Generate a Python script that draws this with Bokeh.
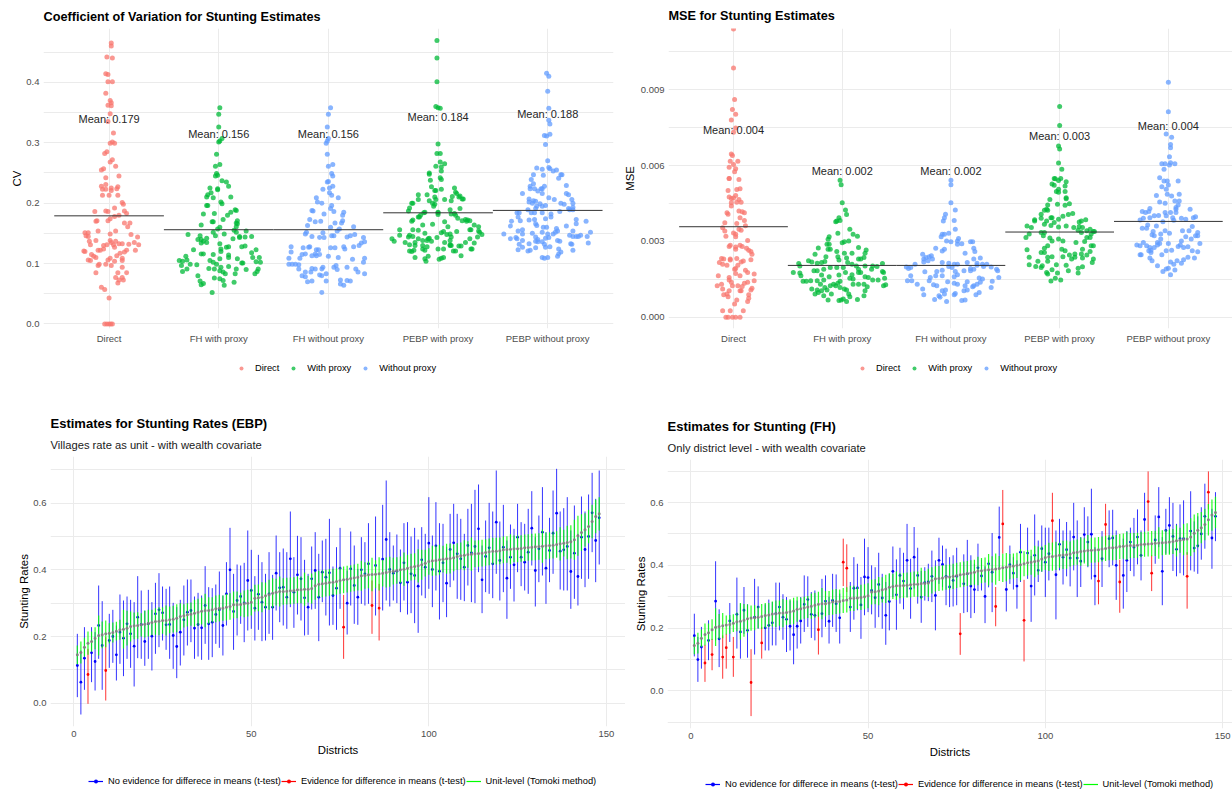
from bokeh.plotting import figure
from bokeh.layouts import column, row
from bokeh.models import FixedTicker, Legend, LegendItem, Title, NumeralTickFormatter
from bokeh.core.properties import value
from bokeh.embed import file_html
from bokeh.resources import INLINE

categories = ["Direct", "FH with proxy", "FH without proxy", "PEBP with proxy", "PEBP without proxy"]
group_of = ["Direct", "With proxy", "Without proxy", "With proxy", "Without proxy"]
legend_names = ["Direct", "With proxy", "Without proxy"]
cv_means = [.179, .156, .156, .184, .188]
cv_label_y = [.339, .3146, .3146, .342, .347]
mse_means = [.00358, .00205, .00205, .00337, .00379]
mse_label_y = [.0074, .0058, .0058, .00716, .00757]

# (value, horizontal jitter)
cv_direct = [(.465,.02),(.46,.02),(.442,-.02),(.44,.03),(.414,-.03),(.413,-.01),(.401,-.01),(.401,.03),(.382,-.03),(.37,.01),(.366,.02),(.362,-.01),(.361,.02),(.348,.01),(.335,-.01),(.316,.04),(.299,.01),(.301,.03),(.299,.05),(.285,-.02),(.282,-.04),(.272,.03),(.268,.01),(.261,.06),(.257,-.05),(.255,-.07),(.242,-.03),(.245,.09),(.228,-.07),(.231,-.03),(.223,-.06),(.223,-.03),(.225,.02),(.221,.02),(.227,.08),(.224,.07),(.213,-.06),(.213,0),(.213,.08),(.201,.12),(.198,.13),(.192,.05),(.186,-.13),(.187,-.03),(.186,-.01),(.187,.14),(.183,.16),(.178,.05),(.18,.09),(.171,-.11),(.17,-.12),(.174,.01),(.171,-.01),(.167,.14),(.167,.19),(.161,.17),(.154,.06),(.154,-.1),(.149,.01),(.151,-.22),(.151,-.19),(.146,-.21),(.145,-.19),(.148,.2),(.144,.26),(.137,-.18),(.138,-.12),(.138,.01),(.135,.02),(.137,.06),(.133,.09),(.133,.12),(.135,.23),(.131,-.17),(.13,-.05),(.131,-.02),(.131,.04),(.132,.18),(.131,.27),(.127,.05),(.124,-.05),(.122,-.08),(.122,-.1),(.121,-.23),(.12,-.22),(.122,.16),(.122,.24),(.119,.14),(.117,.1),(.113,.07),(.115,-.16),(.112,-.14),(.11,-.12),(.106,-.19),(.105,-.17),(.109,.01),(.106,-.01),(.104,.05),(.109,.12),(.105,.12),(.099,-.09),(.097,-.1),(.099,-.03),(.097,.02),(.094,.12),(.085,-.12),(.085,.08),(.085,.16),(.077,.06),(.077,.12),(.073,.09),(.073,.13),(.068,.08),(.061,-.07),(.057,-.04),(.043,0),(0,-.04),(0,-.02),(0,0),(0,.015),(0,.03)]
cv_fh_with = [(.358,.01),(.347,0),(.326,0),(.307,.03),(.303,.01),(.301,0),(.281,-.02),(.264,.01),(.261,-.03),(.249,-.02),(.246,-.01),(.245,-.03),(.237,.03),(.235,.07),(.228,.09),(.225,-.08),(.224,-.01),(.222,-.01),(.217,-.07),(.21,.11),(.214,-.1),(.21,-.11),(.209,-.05),(.202,.02),(.199,.03),(.196,-.11),(.196,-.1),(.189,.15),(.188,.16),(.182,-.14),(.183,-.04),(.185,.11),(.18,.08),(.171,.17),(.173,.04),(.167,.16),(.164,-.16),(.169,-.05),(.169,-.06),(.166,.17),(.161,.16),(.16,.01),(.157,-.01),(.155,.14),(.154,.25),(.152,.16),(.146,-.17),(.148,-.28),(.146,-.03),(.152,-.05),(.14,-.16),(.14,-.19),(.149,.05),(.145,.19),(.145,.3),(.137,-.14),(.142,-.11),(.135,-.11),(.133,.01),(.141,.13),(.143,.19),(.144,.24),(.134,-.16),(.124,.02),(.127,.07),(.128,.09),(.128,.21),(.129,.24),(.123,-.23),(.123,.34),(.115,-.05),(.116,-.16),(.116,-.14),(.12,.02),(.118,.3),(.114,.09),(.11,.09),(.112,-.3),(.105,-.36),(.104,-.33),(.106,-.29),(.105,-.08),(.108,.01),(.108,.17),(.11,.31),(.11,.37),(.097,-.34),(.099,-.26),(.098,-.2),(.102,-.05),(.099,-.02),(.101,.21),(.101,.22),(.103,.34),(.102,.38),(.091,-.29),(.087,-.33),(.092,-.09),(.091,-.04),(.094,.02),(.095,.09),(.091,.16),(.09,.25),(.091,.36),(.08,-.19),(.086,.04),(.088,.01),(.083,.06),(.083,.15),(.083,.33),(.087,.35),(.071,-.17),(.067,-.14),(.076,-.04),(.075,.01),(.072,.04),(.069,.14),(.065,-.16),(.064,.05),(.052,-.06)]
cv_fh_without = [(.358,.02),(.347,0),(.326,-.01),(.307,0),(.303,-.01),(.299,-.02),(.281,-.01),(.261,0),(.264,.04),(.249,.03),(.245,.04),(.236,0),(.235,-.01),(.228,.04),(.225,.01),(.223,-.05),(.217,.01),(.213,.03),(.209,-.11),(.209,.09),(.202,-.1),(.2,-.06),(.196,.03),(.188,-.15),(.187,-.14),(.191,.02),(.186,.05),(.185,.14),(.18,.13),(.182,-.04),(.173,-.17),(.169,-.12),(.17,-.07),(.167,.06),(.171,.13),(.167,.12),(.163,-.19),(.16,.02),(.161,.23),(.157,.1),(.154,.08),(.152,-.2),(.149,-.21),(.151,-.05),(.146,.05),(.146,.03),(.143,-.08),(.143,-.04),(.145,-.15),(.148,.24),(.146,.2),(.144,.17),(.143,.32),(.134,.3),(.136,.33),(.128,.14),(.126,.06),(.13,.28),(.128,.23),(.128,-.34),(.128,-.17),(.127,-.18),(.126,-.23),(.123,-.11),(.123,-.09),(.126,.02),(.119,-.34),(.116,-.21),(.115,-.24),(.116,-.12),(.113,-.15),(.115,-.08),(.113,-.11),(.112,0),(.124,.15),(.109,-.36),(.109,-.26),(.11,.09),(.107,.22),(.109,.33),(.102,.32),(.099,-.36),(.099,-.3),(.099,-.33),(.098,-.27),(.097,.07),(.094,.17),(.094,.05),(.094,-.05),(.091,-.06),(.091,-.12),(.092,-.15),(.091,-.27),(.09,.08),(.091,.25),(.086,-.21),(.086,-.16),(.086,.27),(.083,.33),(.08,-.24),(.078,-.21),(.081,-.08),(.083,-.02),(.08,-.06),(.073,.11),(.071,.2),(.066,.11),(.064,.14),(.072,.17),(.071,-.02),(.071,-.15),(.07,-.19),(.052,-.06)]
cv_pebp_with = [(.469,-.01),(.44,-.01),(.401,-.01),(.36,-.02),(.358,0),(.357,.02),(.298,0),(.282,-.01),(.282,.02),(.268,.02),(.265,.06),(.261,-.02),(.26,.03),(.253,.03),(.25,-.08),(.248,-.08),(.242,.02),(.239,.03),(.238,-.07),(.227,-.06),(.223,.03),(.221,-.03),(.221,-.02),(.225,.15),(.218,.16),(.214,-.18),(.214,-.1),(.216,.17),(.212,.2),(.21,-.03),(.211,.13),(.21,.19),(.207,.22),(.206,-.18),(.206,-.02),(.204,-.08),(.206,.06),(.204,.12),(.207,.23),(.2,-.24),(.2,-.23),(.2,-.05),(.198,-.03),(.195,-.04),(.192,-.26),(.191,.2),(.189,.11),(.187,-.27),(.185,-.12),(.185,0),(.184,.0),(.182,.12),(.183,.15),(.184,-.13),(.181,.0),(.18,.16),(.18,-.16),(.177,-.17),(.177,-.18),(.175,.18),(.173,.25),(.172,.27),(.171,.29),(.171,.22),(.17,.26),(.172,-.23),(.17,-.24),(.169,.06),(.165,-.05),(.161,.09),(.164,-.14),(.164,.33),(.161,.37),(.156,-.35),(.156,-.23),(.155,-.18),(.15,-.12),(.153,.05),(.151,.03),(.153,.17),(.156,.29),(.156,.3),(.154,.37),(.152,.38),(.148,.4),(.144,.36),(.141,.29),(.134,.33),(.135,.25),(.129,.19),(.129,.21),(.124,.3),(.124,.31),(.113,.21),(.121,.14),(.121,.16),(.124,.05),(.124,0),(.13,.11),(.13,.12),(.144,.12),(.148,.08),(.149,.11),(.143,-.01),(.142,-.08),(.141,-.09),(.138,-.1),(.141,-.18),(.145,-.23),(.147,-.26),(.144,-.27),(.147,-.35),(.141,-.42),(.137,-.4),(.135,-.3),(.131,-.26),(.135,-.21),(.13,-.21),(.138,-.14),(.13,-.14),(.124,-.14),(.128,-.1),(.137,-.06),(.135,.06),(.138,.11),(.131,.11),(.121,-.26),(.12,-.24),(.122,-.22),(.122,-.12),(.11,-.21),(.112,-.09),(.108,-.12),(.104,-.11),(.107,.01),(.109,.03),(.11,.05)]
cv_pebp_without = [(.415,-.01),(.41,.01),(.385,0),(.357,.01),(.337,.01),(.331,.02),(.312,-.03),(.311,-.01),(.314,.02),(.297,-.02),(.27,0),(.258,-.1),(.256,-.05),(.259,.01),(.257,.02),(.253,.05),(.255,.08),(.247,-.13),(.246,-.04),(.247,.12),(.247,.13),(.239,-.15),(.232,-.13),(.241,.1),(.228,-.16),(.224,-.16),(.224,-.12),(.224,-.05),(.228,-.03),(.224,-.06),(.229,.17),(.216,-.23),(.22,-.09),(.216,-.05),(.216,.17),(.214,.19),(.209,.01),(.206,.06),(.207,-.17),(.202,-.17),(.204,-.13),(.203,-.11),(.206,.22),(.2,.23),(.2,.12),(.198,.15),(.2,-.14),(.199,-.07),(.195,-.05),(.196,-.02),(.195,-.1),(.191,-.11),(.193,.23),(.191,.19),(.189,.2),(.189,.23),(.189,-.18),(.184,-.28),(.184,-.26),(.184,-.15),(.184,-.12),(.184,-.05),(.182,.03),(.186,.11),(.177,-.27),(.171,-.25),(.17,-.33),(.172,-.17),(.173,-.12),(.174,-.02),(.177,.03),(.162,-.34),(.166,-.11),(.163,-.1),(.16,-.04),(.16,-.01),(.158,.08),(.162,.17),(.173,.26),(.166,.26),(.17,.35),(.154,.23),(.152,.39),(.149,-.4),(.154,-.27),(.156,-.23),(.149,-.23),(.15,-.14),(.152,-.05),(.149,0),(.149,.05),(.154,.09),(.152,.07),(.147,.2),(.145,.23),(.145,.26),(.145,.28),(.147,.3),(.145,.36),(.141,-.34),(.143,-.29),(.141,-.28),(.144,-.11),(.14,-.09),(.143,.01),(.142,-.02),(.138,.09),(.137,.11),(.134,.37),(.133,.21),(.132,.22),(.138,-.23),(.132,-.26),(.127,-.23),(.133,-.17),(.137,-.11),(.136,-.09),(.136,-.05),(.132,-.03),(.128,.02),(.123,-.27),(.121,-.18),(.122,-.16),(.126,-.11),(.127,-.02),(.124,.1),(.122,.23),(.119,.12),(.116,.1),(.112,.09),(.11,-.05),(.109,-.03),(.11,0)]
mse_direct = [(.0114,0),(.00986,0),(.00861,.01),(.00822,-.01),(.00803,.02),(.0078,-.02),(.00748,.02),(.00732,0),(.00646,-.02),(.0064,-.01),(.00617,.04),(.00617,-.03),(.00604,0),(.00593,-.04),(.00587,.02),(.00575,.01),(.00549,-.04),(.00549,-.04),(.00545,.05),(.00501,-.05),(.00505,.03),(.00508,.06),(.00476,-.04),(.00482,.02),(.00472,0),(.0047,-.02),(.00466,.05),(.00455,.07),(.00453,-.02),(.00455,.03),(.0044,-.02),(.0042,.05),(.00417,.08),(.00413,.1),(.00413,-.06),(.00407,-.05),(.00394,.06),(.00383,.1),(.00374,-.08),(.00371,.03),(.00362,.11),(.00354,-.1),(.00341,-.08),(.00348,.05),(.00344,.07),(.00333,0),(.00328,.02),(.0032,-.07),(.00318,.02),(.00304,.13),(.00285,-.03),(.0028,-.04),(.00278,.02),(.00285,.06),(.0028,.08),(.00273,.12),(.00265,.14),(.0026,.16),(.00249,.17),(.00269,.02),(.00227,.16),(.00232,-.11),(.0023,-.09),(.0023,-.03),(.00232,.03),(.00222,.09),(.00219,.07),(.00217,-.13),(.0021,-.1),(.00206,-.06),(.00226,-.03),(.00206,.04),(.0019,.01),(.00193,.02),(.00186,.11),(.00177,.13),(.00164,-.14),(.00171,.19),(.00157,-.04),(.00164,.06),(.00173,.02),(.00147,-.04),(.00138,-.02),(.00138,.13),(.00144,.19),(.00134,.1),(.00125,-.15),(.00131,-.11),(.00125,-.01),(.00125,.04),(.00122,.08),(.00115,.17),(.00112,-.1),(.00105,-.04),(.00105,.07),(.00108,.16),(.00089,-.09),(.00092,-.06),(.00105,.06),(.00089,.14),(.00075,.14),(.00081,-.05),(.00068,.03),(.00052,.01),(.00062,.13),(.00026,-.1),(.00026,-.03),(.00026,.09),(0,-.07),(0,-.05),(0,-.01),(0,.02),(0,.06)]
mse_fh_with = [(.00542,-.02),(.00524,-.01),(.00453,0),(.00424,.03),(.00406,.04),(.00394,-.03),(.00383,-.02),(.00381,-.05),(.00378,-.06),(.00348,.07),(.00332,-.04),(.00328,.1),(.0032,.14),(.00318,-.12),(.00308,-.13),(.00302,.06),(.00299,.02),(.00295,0),(.00289,-.12),(.00289,-.14),(.00269,-.13),(.00269,-.11),(.00274,-.22),(.00276,.15),(.00266,.22),(.0026,-.05),(.00253,.02),(.00253,.09),(.00249,-.25),(.00253,.21),(.00236,.2),(.00239,-.15),(.00239,-.04),(.00226,-.03),(.00234,.04),(.0023,.15),(.0023,.17),(.00223,-.31),(.00219,-.28),(.00214,-.23),(.00217,-.19),(.0022,-.16),(.00217,.05),(.0021,.09),(.00213,-.4),(.00203,-.39),(.00203,.28),(.00213,.37),(.00201,.32),(.00203,.13),(.00203,.21),(.00197,-.11),(.00197,-.05),(.00197,.01),(.0019,.15),(.0019,.27),(.0019,-.17),(.00184,-.23),(.00184,-.26),(.00177,-.45),(.00175,-.39),(.00164,-.38),(.00177,.15),(.00177,.17),(.00177,.03),(.00168,.09),(.00181,.37),(.00177,.38),(.00167,-.19),(.0016,-.12),(.00167,-.03),(.0016,.21),(.00157,.24),(.00154,.39),(.00142,-.36),(.00142,-.33),(.00144,-.29),(.00144,-.23),(.00147,-.17),(.00142,-.02),(.00154,.07),(.00151,.1),(.00147,.28),(.00147,.33),(.00131,-.2),(.00131,-.08),(.00134,-.04),(.00125,-.06),(.00118,-.16),(.00131,.1),(.00131,.15),(.00131,.2),(.00121,.23),(.00125,.38),(.00129,.4),(.00112,-.28),(.00108,-.23),(.00105,-.19),(.00108,-.14),(.00125,-.11),(.00118,-.02),(.00112,.02),(.00108,.04),(.00105,.21),(.00092,-.25),(.00098,-.22),(.00085,-.17),(.00092,-.1),(.00092,.06),(.00085,.2),(.00081,.07),(.00066,-.03),(.00068,-.13),(.00068,-.01),(.00072,.01),(.00062,.04),(.0007,.14)]
mse_fh_without = [(.00542,0),(.00524,0),(.00453,0),(.00424,.04),(.00407,-.05),(.00394,-.06),(.00381,-.07),(.00383,.03),(.00348,.04),(.00332,-.02),(.00328,-.08),(.00328,-.06),(.00318,-.09),(.00311,.07),(.00302,.06),(.00299,0),(.00302,-.04),(.00299,.18),(.00299,.2),(.00289,.06),(.00291,.1),(.00273,-.14),(.00269,-.06),(.00262,-.08),(.00253,.13),(.00273,.21),(.0026,.22),(.00249,-.26),(.00239,-.2),(.00243,-.18),(.0023,-.25),(.00223,-.21),(.00236,-.23),(.0023,.21),(.00234,.27),(.0021,-.33),(.00219,-.25),(.0023,-.17),(.00217,-.08),(.00214,-.02),(.0021,.03),(.0021,.06),(.00217,.15),(.00214,.24),(.0021,.29),(.0021,.33),(.00199,-.41),(.00193,-.39),(.00197,-.37),(.00201,-.02),(.00197,.01),(.00193,.18),(.00206,.24),(.00201,.3),(.00199,.37),(.0018,-.24),(.00181,-.13),(.00186,-.08),(.00181,.04),(.00184,.12),(.0019,.42),(.00184,.43),(.00164,-.37),(.00157,-.19),(.00164,-.14),(.00164,-.08),(.0016,.03),(.00168,.06),(.00184,.18),(.0019,.21),(.00155,.26),(.00151,.29),(.00157,.44),(.00144,-.4),(.00144,-.36),(.00144,-.2),(.0014,-.03),(.00134,.03),(.0014,.15),(.00125,.21),(.00138,.27),(.00142,.38),(.00131,-.31),(.00129,-.16),(.00125,-.13),(.00131,.06),(.00125,.13),(.00131,.24),(.00118,.37),(.00112,-.26),(.00105,-.08),(.00108,-.05),(.00094,.04),(.00108,.15),(.00121,.2),(.00098,.26),(.00089,-.25),(.00085,-.11),(.00092,-.06),(.00089,.03),(.00105,.12),(.00089,.23),(.00079,-.1),(.0007,-.15),(.00062,-.04),(.00066,.1),(.00068,.13)]
mse_pebp_with = [(.00834,0),(.00758,0),(.00677,-.01),(.00665,0),(.0061,-.01),(.00585,.02),(.00549,-.05),(.00548,-.04),(.00549,.01),(.00541,-.01),(.00536,.06),(.00527,-.07),(.00522,-.05),(.00519,.05),(.00506,-.01),(.00497,-.03),(.00494,-.01),(.00497,.05),(.00473,.06),(.00469,.06),(.00466,-.09),(.00444,-.11),(.00447,-.02),(.00443,.05),(.00449,.09),(.00427,-.12),(.00423,-.11),(.00423,-.14),(.00407,-.17),(.00399,.03),(.00406,.08),(.0041,.12),(.00394,-.08),(.00394,-.07),(.00388,-.01),(.00386,-.23),(.00392,-.17),(.00381,-.23),(.00381,-.12),(.00375,-.05),(.00381,.2),(.00386,.24),(.00377,.18),(.00361,-.3),(.00355,-.26),(.00368,-.14),(.00363,-.08),(.00357,-.01),(.00361,.06),(.00355,.21),(.00355,.13),(.00359,.18),(.00348,.28),(.00342,.25),(.00315,-.31),(.00329,-.28),(.00335,-.17),(.00335,-.14),(.00322,-.15),(.00344,.17),(.00335,.2),(.00339,.31),(.00339,.32),(.00329,.29),(.00313,-.09),(.00309,-.01),(.00302,-.07),(.00302,.03),(.00315,.28),(.00315,.25),(.003,.23),(.00296,.15),(.00283,-.11),(.00273,-.14),(.00267,-.3),(.00256,-.17),(.00256,-.14),(.00269,.02),(.00263,.05),(.00283,.29),(.00283,.31),(.0026,.28),(.00269,.21),(.00246,.09),(.0025,.14),(.0025,.2),(.00246,.25),(.00237,-.11),(.00239,-.07),(.00239,.03),(.00237,-.28),(.0023,.11),(.00237,.14),(.00234,.21),(.0023,.31),(.00217,.3),(.00221,-.2),(.00221,-.11),(.00208,-.28),(.00201,-.22),(.00197,-.17),(.00204,-.16),(.00208,-.03),(.00206,.06),(.00194,.17),(.002,.21),(.00177,-.12),(.00171,-.11),(.00188,-.07),(.00175,-.02),(.00184,.08),(.00175,.17),(.00154,-.04),(.00143,-.08),(.00147,.01)]
mse_pebp_without = [(.00929,0),(.00813,0),(.00725,-.02),(.00712,.03),(.00683,.02),(.0067,.02),(.00635,.01),(.00607,-.06),(.00607,-.03),(.00602,.01),(.00607,.06),(.00585,-.04),(.00611,.02),(.00552,-.08),(.00539,-.04),(.00516,-.06),(.00539,-.01),(.00539,.09),(.00523,0),(.00506,-.02),(.00482,-.11),(.00486,-.01),(.0048,.03),(.00486,.1),(.00456,-.08),(.00451,-.03),(.0046,.06),(.0046,.1),(.00444,.09),(.00434,.07),(.00427,.07),(.00427,.2),(.0043,-.17),(.00418,-.18),(.00418,-.24),(.00414,-.21),(.00414,-.03),(.00414,.02),(.00414,.07),(.00401,-.02),(.00401,-.13),(.00402,-.09),(.00394,-.17),(.00392,-.23),(.00385,-.26),(.00378,-.05),(.00394,.04),(.00392,.12),(.00388,.16),(.00394,.23),(.00397,.25),(.00384,.05),(.00365,-.19),(.00352,-.24),(.00352,-.2),(.00361,-.11),(.00329,-.07),(.00342,-.03),(.00342,.13),(.00359,.22),(.00342,.19),(.00335,.27),(.00339,-.14),(.00326,-.15),(.00322,-.13),(.00332,.01),(.00322,.25),(.00322,.27),(.00309,-.07),(.00292,-.08),(.00296,-.1),(.00318,.16),(.00309,.21),(.00302,.12),(.00286,-.29),(.00283,-.26),(.00296,-.23),(.00283,-.2),(.00276,-.17),(.00276,-.13),(.00286,-.1),(.00292,0),(.00286,.11),(.0028,.09),(.00276,.14),(.00279,.18),(.00292,.29),(.00263,-.18),(.00256,-.16),(.00265,-.16),(.00263,-.02),(.00265,.03),(.00263,.22),(.00259,.27),(.00247,-.26),(.00247,-.25),(.00247,-.06),(.00234,-.17),(.00204,-.1),(.00219,.02),(.00223,.08),(.00214,.12),(.00227,.14),(.00237,.18),(.00234,.24),(.0021,.05),(.00223,-.15),(.00191,-.02),(.00194,0),(.00181,-.05),(.00187,.06),(.00168,.02)]

districts = list(range(1, 149))
unit_rate = [.145,.152,.168,.18,.185,.195,.203,.205,.208,.21,.212,.216,.22,.222,.225,.23,.232,.233,.235,.237,.24,.242,.245,.246,.248,.248,.25,.252,.255,.26,.262,.265,.267,.27,.273,.276,.278,.278,.28,.283,.285,.285,.288,.29,.295,.295,.296,.298,.3,.303,.315,.316,.318,.322,.325,.33,.333,.335,.335,.336,.337,.338,.34,.34,.342,.342,.344,.352,.357,.358,.36,.362,.363,.365,.368,.37,.372,.374,.376,.378,.382,.383,.385,.386,.387,.388,.39,.392,.394,.396,.398,.4,.402,.405,.408,.41,.412,.415,.42,.425,.427,.428,.43,.432,.433,.434,.436,.44,.442,.444,.446,.447,.448,.449,.45,.452,.454,.456,.456,.457,.46,.461,.462,.463,.463,.464,.466,.467,.468,.469,.47,.471,.472,.473,.474,.476,.478,.48,.482,.484,.49,.502,.512,.52,.53,.545,.56,.568]
unit_hw = [.028,.033,.028,.035,.03,.033,.06,.04,.04,.03,.03,.028,.03,.058,.052,.045,.04,.04,.035,.04,.04,.038,.04,.042,.04,.045,.04,.04,.042,.04,.035,.035,.035,.04,.04,.04,.05,.04,.038,.04,.04,.038,.04,.04,.04,.04,.035,.04,.04,.04,.04,.04,.045,.04,.045,.045,.04,.045,.04,.04,.04,.04,.04,.04,.05,.04,.045,.042,.04,.04,.04,.04,.04,.04,.04,.04,.04,.04,.04,.04,.045,.04,.04,.05,.042,.05,.04,.045,.045,.04,.04,.04,.05,.04,.04,.04,.05,.045,.04,.04,.045,.045,.045,.04,.045,.045,.04,.04,.04,.045,.04,.05,.04,.04,.04,.04,.04,.04,.04,.04,.04,.04,.045,.04,.04,.04,.04,.04,.04,.04,.04,.05,.04,.04,.04,.04,.05,.04,.05,.05,.06,.06,.055,.05,.05,.05,.05,.05]

ebp_est = [.113,.063,.135,.086,.151,.125,.233,.173,.098,.188,.2,.145,.213,.195,.238,.208,.171,.258,.236,.185,.238,.201,.268,.28,.271,.235,.236,.203,.17,.213,.25,.273,.278,.225,.236,.226,.293,.238,.243,.266,.28,.233,.328,.4,.275,.308,.32,.301,.368,.338,.285,.327,.303,.288,.328,.288,.39,.346,.348,.318,.433,.333,.385,.373,.316,.288,.373,.398,.318,.393,.378,.391,.323,.345,.405,.228,.3,.403,.353,.318,.4,.388,.418,.293,.413,.285,.432,.491,.401,.39,.396,.361,.421,.363,.388,.383,.351,.43,.408,.48,.401,.472,.396,.421,.36,.461,.481,.448,.433,.408,.473,.451,.47,.523,.37,.44,.466,.418,.543,.428,.468,.375,.438,.415,.498,.438,.423,.453,.525,.398,.463,.513,.405,.458,.51,.57,.456,.46,.47,.395,.45,.38,.498,.461,.5,.571,.488,.556]
ebp_hi = [.208,.158,.228,.163,.228,.213,.353,.306,.198,.268,.28,.233,.326,.308,.32,.31,.303,.381,.338,.278,.34,.303,.361,.39,.35,.343,.35,.301,.288,.31,.353,.371,.371,.32,.331,.323,.411,.348,.345,.356,.395,.323,.423,.526,.388,.416,.413,.421,.518,.46,.381,.445,.423,.388,.453,.385,.503,.453,.464,.453,.575,.438,.502,.498,.43,.388,.47,.513,.448,.488,.493,.553,.41,.468,.526,.325,.398,.515,.473,.403,.498,.483,.54,.368,.56,.358,.595,.668,.513,.473,.506,.461,.54,.543,.5,.526,.491,.528,.508,.618,.503,.603,.54,.538,.468,.568,.598,.568,.553,.508,.583,.598,.64,.656,.473,.548,.601,.575,.698,.545,.595,.488,.536,.523,.598,.543,.538,.583,.636,.498,.563,.648,.513,.556,.638,.703,.575,.585,.618,.518,.593,.508,.62,.575,.626,.691,.613,.698]
ebp_lo = [.018,-.034,.04,-.002,.063,.038,.133,.04,.008,.106,.121,.068,.118,.081,.133,.106,.05,.135,.133,.112,.133,.098,.148,.168,.188,.16,.133,.103,.075,.113,.143,.173,.183,.133,.14,.13,.178,.13,.138,.178,.166,.143,.233,.278,.16,.203,.238,.183,.218,.223,.188,.22,.186,.188,.208,.19,.278,.243,.233,.223,.288,.226,.266,.248,.203,.205,.281,.283,.186,.303,.263,.233,.235,.22,.283,.133,.206,.293,.238,.235,.298,.293,.298,.208,.263,.188,.278,.308,.29,.308,.3,.273,.308,.266,.27,.24,.211,.323,.315,.343,.288,.338,.251,.303,.258,.348,.368,.313,.31,.306,.353,.303,.3,.393,.27,.333,.328,.315,.388,.308,.333,.253,.343,.305,.393,.351,.338,.328,.413,.29,.363,.383,.298,.363,.388,.438,.341,.338,.338,.283,.313,.293,.373,.348,.373,.453,.363,.416]
ebp_red = [4, 9, 76, 84, 86]

fh_est = [.176,.1,.14,.089,.161,.116,.286,.166,.108,.138,.223,.108,.244,.188,.257,.193,.027,.235,.267,.153,.201,.209,.217,.246,.267,.235,.228,.206,.179,.206,.223,.276,.291,.244,.241,.195,.246,.286,.222,.288,.278,.233,.41,.391,.267,.327,.328,.274,.363,.361,.32,.297,.339,.296,.241,.285,.381,.306,.368,.35,.416,.326,.426,.368,.299,.345,.347,.365,.304,.416,.403,.365,.331,.352,.365,.182,.341,.373,.334,.323,.392,.366,.301,.405,.378,.269,.489,.532,.323,.402,.375,.334,.442,.225,.439,.334,.432,.384,.453,.41,.437,.542,.37,.467,.426,.45,.423,.49,.423,.413,.498,.474,.499,.366,.35,.421,.53,.485,.487,.4,.347,.368,.416,.474,.458,.49,.432,.546,.603,.375,.481,.554,.381,.511,.527,.492,.451,.485,.485,.365,.509,.455,.462,.5,.556,.633,.487,.556]
fh_hi = [.246,.172,.204,.147,.225,.166,.413,.26,.177,.182,.28,.172,.361,.278,.331,.276,.133,.357,.333,.204,.276,.291,.283,.345,.345,.308,.299,.288,.288,.288,.299,.368,.365,.315,.32,.251,.357,.368,.3,.373,.371,.31,.485,.467,.347,.426,.405,.363,.485,.458,.4,.394,.44,.373,.347,.373,.46,.419,.456,.44,.532,.421,.522,.456,.382,.394,.405,.447,.416,.488,.463,.453,.426,.432,.456,.248,.435,.481,.432,.405,.469,.418,.397,.416,.503,.331,.587,.64,.389,.463,.426,.416,.532,.354,.52,.43,.562,.479,.527,.52,.52,.631,.511,.548,.511,.538,.511,.599,.543,.49,.585,.556,.644,.458,.416,.509,.596,.575,.577,.511,.418,.485,.509,.52,.551,.578,.511,.631,.699,.432,.559,.649,.49,.58,.617,.599,.532,.594,.607,.442,.636,.54,.556,.585,.66,.699,.58,.633]
fh_lo = [.11,.029,.071,.029,.098,.066,.161,.076,.039,.071,.156,.045,.135,.103,.182,.106,-.08,.116,.198,.103,.129,.129,.145,.145,.193,.163,.124,.129,.085,.135,.151,.188,.204,.169,.161,.116,.171,.204,.151,.204,.188,.151,.334,.315,.188,.227,.257,.166,.241,.251,.244,.201,.235,.198,.147,.193,.299,.195,.278,.26,.299,.23,.326,.278,.217,.288,.286,.283,.193,.341,.331,.273,.267,.269,.273,.115,.248,.251,.232,.248,.318,.32,.216,.33,.251,.206,.389,.437,.253,.341,.323,.262,.347,.094,.357,.22,.304,.347,.379,.299,.352,.447,.228,.384,.339,.365,.333,.384,.299,.331,.41,.394,.355,.273,.276,.331,.463,.394,.4,.29,.249,.262,.315,.382,.365,.403,.352,.458,.509,.318,.405,.458,.273,.437,.437,.382,.365,.375,.368,.262,.384,.38,.373,.418,.453,.578,.389,.477]
fh_red = [4, 6, 9, 10, 12, 17, 20, 36, 43, 44, 76, 86, 88, 94, 102, 115, 117, 121, 129, 130, 140, 146]
range_labels = ["No evidence for differece in means (t-test)", "Evidence for difference in means (t-test)", "Unit-level (Tomoki method)"]

FONT = "Liberation Sans"
NAN = float("nan")
colors = {"Direct": "#F8766D", "With proxy": "#00BA38", "Without proxy": "#619CFF"}
GRID = "#EBEBEB"
TICK = "#4D4D4D"


def base(width, height, left, right, top, bottom, xr, yr, xticks, xminor, yticks, yminor):
    p = figure(width=width, height=height, x_range=xr, y_range=yr, output_backend="svg",
               toolbar_location=None, min_border_left=left, min_border_right=right,
               min_border_top=top, min_border_bottom=bottom, outline_line_color=None,
               background_fill_color="white", border_fill_color=None)
    p.xaxis.ticker = FixedTicker(ticks=xticks, minor_ticks=xminor)
    p.yaxis.ticker = FixedTicker(ticks=yticks, minor_ticks=yminor)
    for ax in (p.xaxis[0], p.yaxis[0]):
        ax.axis_line_color = None
        ax.major_tick_line_color = None
        ax.minor_tick_line_color = None
        ax.major_tick_out = 0
        ax.major_tick_in = 0
        ax.minor_tick_out = 0
        ax.minor_tick_in = 0
        ax.major_label_text_font = FONT
        ax.major_label_text_font_size = "9.5px"
        ax.major_label_text_color = TICK
        ax.axis_label_text_font = FONT
        ax.axis_label_text_font_style = "normal"
        ax.axis_label_text_font_size = "11.4px"
        ax.axis_label_text_color = "black"
    p.xaxis[0].major_label_standoff = 4
    p.yaxis[0].major_label_standoff = 4
    for g in (p.xgrid[0], p.ygrid[0]):
        g.grid_line_color = GRID
        g.grid_line_width = 1
    p.ygrid[0].minor_grid_line_color = GRID
    p.ygrid[0].minor_grid_line_width = 1
    return p


def titled(p, main, sub=None, main_size="12.7px", standoff=10):
    if sub:
        p.add_layout(Title(text=sub, text_font=FONT, text_font_size="11.2px", text_font_style="normal",
                           text_color="#1a1a1a", standoff=11, offset=0), "above")
    p.add_layout(Title(text=main, text_font=FONT, text_font_size=main_size, text_font_style="bold",
                       text_color="black", standoff=standoff, offset=0), "above")


def strip(width, height):
    s = figure(width=width, height=height, x_range=(0, 1), y_range=(0, 1), output_backend="svg",
               toolbar_location=None, min_border=0, outline_line_color=None, border_fill_color=None)
    s.axis.visible = False
    s.grid.visible = False
    return s


def add_legend(s, items, xy, spacing, glyph_w, standoff):
    s.add_layout(Legend(items=items, orientation="horizontal", location=xy, border_line_color=None,
                        background_fill_alpha=0, padding=0, margin=0, spacing=spacing,
                        glyph_width=glyph_w, glyph_height=10, label_standoff=standoff, label_text_font=FONT,
                        label_text_font_size="9.3px", label_text_color="black", label_height=10), "center")


def swarm(p, groups, means, label_y, fmt, s, legend_xy):
    for i, pts in enumerate(groups):
        vals = [a for a, _ in pts]
        xs = [i + 1 + b for _, b in pts]
        p.scatter(xs, vals, size=5, color=colors[group_of[i]], alpha=0.75, line_color=None)
    p.segment([i + .5 for i in range(5)], means, [i + 1.5 for i in range(5)], means,
              line_color="#333333", line_width=1)
    p.text([i + 1 for i in range(5)], label_y, text=[fmt % m for m in means], text_align="center",
           text_baseline="middle", text_font=value(FONT), text_font_size="11px", text_color="#262626")
    p.xaxis[0].major_label_overrides = {i + 1: c for i, c in enumerate(categories)}
    items = []
    for n in legend_names:
        r = s.scatter([NAN], [NAN], size=5, color=colors[n], alpha=0.75, line_color=None)
        items.append(LegendItem(label=n, renderers=[r]))
    add_legend(s, items, legend_xy, 6, 16, 6)


def ranges(p, est, lo, hi, red, s, legend_xy):
    ix_b = [i for i, d in enumerate(districts) if d not in red]
    ix_r = [i for i, d in enumerate(districts) if d in red]
    for ix, c in ((ix_b, "#0000FF"), (ix_r, "#FF0000")):
        xs = [districts[i] for i in ix]
        p.segment(xs, [lo[i] for i in ix], xs, [hi[i] for i in ix], line_color=c, line_width=1, line_alpha=.8)
        p.scatter(xs, [est[i] for i in ix], size=2.8, color=c, line_color=None)
    ul = [a - b for a, b in zip(unit_rate, unit_hw)]
    uh = [a + b for a, b in zip(unit_rate, unit_hw)]
    p.segment(districts, ul, districts, uh, line_color="#00FF00", line_width=1.2, line_alpha=.85)
    p.scatter(districts, unit_rate, size=3, color="#7F7F7F", line_color=None, alpha=.9)
    p.xaxis[0].axis_label = "Districts"
    p.yaxis[0].axis_label = "Stunting Rates"
    p.xaxis[0].axis_label_standoff = 4
    p.yaxis[0].axis_label_standoff = 0
    items = []
    for label, c, dot in zip(range_labels, ("#0000FF", "#FF0000", "#00FF00"), (True, True, False)):
        rs = [s.line([NAN, NAN], [NAN, NAN], line_color=c, line_width=1.2)]
        if dot:
            rs.append(s.scatter([NAN], [NAN], size=3, color=c, line_color=None))
        items.append(LegendItem(label=label, renderers=rs))
    add_legend(s, items, legend_xy, 0, 15, 5)


cvy = [0, .1, .2, .3, .4]
pa = base(620, 355, 43, 7, 28, 27, (.402, 5.6), (-.00745, .489), [1, 2, 3, 4, 5], [],
          cvy, [.05, .15, .25, .35, .45])
pa.yaxis[0].formatter = NumeralTickFormatter(format="0.0")
pa.yaxis[0].axis_label = "CV"
pa.yaxis[0].axis_label_standoff = 0
titled(pa, "Coefficient of Variation for Stunting Estimates")
sa = strip(620, 40)
swarm(pa, [cv_direct, cv_fh_with, cv_fh_without, cv_pebp_with, cv_pebp_without], cv_means, cv_label_y, "Mean: %.3f", sa, (190, 22))

pb = base(612, 355, 48, 0, 28, 27, (.402, 5.59), (-.000445, .01142), [1, 2, 3, 4, 5], [],
          [0, .003, .006, .009], [.0015, .0045, .0075, .0105])
pb.yaxis[0].formatter = NumeralTickFormatter(format="0.000")
pb.yaxis[0].axis_label = "MSE"
pb.yaxis[0].axis_label_standoff = 2
titled(pb, "MSE for Stunting Estimates", standoff=11)
sb = strip(612, 40)
swarm(pb, [mse_direct, mse_fh_with, mse_fh_without, mse_pebp_with, mse_pebp_without], mse_means, mse_label_y, "Mean: %.3f", sb, (186, 22))

pc = base(625, 370, 50, 0, 61, 39, (-6.56, 155.4), (-.07, .74), [0, 50, 100, 150], [25, 75, 125],
          [0, .2, .4, .6], [.1, .3, .5, .7])
pc.yaxis[0].formatter = NumeralTickFormatter(format="0.0")
titled(pc, "Estimates for Stunting Rates (EBP)", "Villages rate as unit - with wealth covariate", "13px", 1)
sc = strip(625, 25)
ranges(pc, ebp_est, ebp_lo, ebp_hi, ebp_red, sc, (38, 4))

pd_ = base(607, 370, 42, 0, 64, 37, (-6.57, 152.8), (-.1195, .737), [0, 50, 100, 150], [25, 75, 125],
           [0, .2, .4, .6], [-.1, .1, .3, .5, .7])
pd_.yaxis[0].formatter = NumeralTickFormatter(format="0.0")
titled(pd_, "Estimates for Stunting (FH)", "Only district level - with wealth covariate", "13px", 1)
sd = strip(607, 25)
ranges(pd_, fh_est, fh_lo, fh_hi, fh_red, sd, (38, 1))

layout = column(row(column(pa, sa, spacing=0), column(pb, sb, spacing=0), spacing=0),
                row(column(pc, sc, spacing=0), column(pd_, sd, spacing=0), spacing=0), spacing=0)
open("out.html", "w").write(file_html(layout, INLINE))
